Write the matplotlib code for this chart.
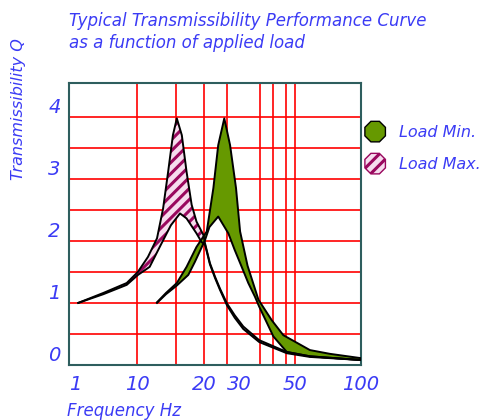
import numpy as np
import matplotlib
matplotlib.use("Agg")
import matplotlib.pyplot as plt
import matplotlib.patches as mpatches
from matplotlib.legend_handler import HandlerPatch

# the frequency axis in the original is piecewise logarithmic
SCALE_FREQ = [1, 10, 20, 30, 50, 100]
SCALE_POS = [0, 68, 135, 158, 226, 292]

tick_freq = [1, 10, 20, 30, 50, 100]
minor_grid_freq = [15, 38.4, 42.3, 46.6]

# Load Max. (hatched band), upper and lower edge
max_up_f = [1.37, 3.2, 7.06, 10.1, 11.2, 12.3, 13.1, 13.8, 14.5, 15.1, 15.9, 16.7, 17.6,
            18.5, 19.9, 20.35, 22.2, 24.3, 26.5, 30.0, 31.8, 33.9, 38.2, 47.0, 58.5, 100]
max_up_q = [1.00, 1.16, 1.32, 1.50, 1.74, 2.04, 2.52, 3.11, 3.70, 3.97, 3.70, 3.11, 2.58,
            2.31, 2.09, 1.96, 1.64, 1.42, 1.23, 0.99, 0.80, 0.62, 0.40, 0.21, 0.14, 0.08]
max_lo_f = [1.37, 3.2, 7.06, 10.1, 11.4, 12.9, 14.2, 15.6, 16.7, 18.5, 19.5, 20.35,
            22.2, 24.3, 26.5, 30.0, 31.8, 33.9, 38.2, 47.0, 58.5, 100]
max_lo_q = [1.00, 1.14, 1.29, 1.45, 1.58, 1.96, 2.25, 2.44, 2.36, 2.12, 1.98, 1.94,
            1.62, 1.40, 1.21, 0.96, 0.76, 0.58, 0.37, 0.19, 0.13, 0.08]

# Load Min. (green band)
min_up_f = [12.3, 13.5, 15.1, 16.7, 18.5, 21.0, 23.6, 25.7, 28.6, 30.7, 32.1, 33.1,
            35.0, 38.0, 42.0, 45.8, 58.5, 72, 100]
min_up_q = [1.01, 1.16, 1.32, 1.58, 1.90, 2.15, 2.85, 3.54, 3.97, 3.54, 2.85, 2.15,
            1.60, 1.05, 0.72, 0.48, 0.24, 0.18, 0.11]
min_lo_f = [12.3, 13.5, 15.1, 17.0, 18.2, 20.35, 22.0, 25.7, 30.3, 31.8, 33.5, 35.2,
            37.0, 38.2, 42.5, 47.0, 58.5, 100]
min_lo_q = [1.00, 1.14, 1.28, 1.45, 1.66, 2.01, 2.22, 2.39, 2.12, 1.85, 1.58, 1.32,
            1.10, 0.94, 0.46, 0.21, 0.14, 0.08]

BLUE = "#3b3bf5"
GREEN = "#669900"
PURPLE = "#99085e"
PINK = "#f6dcee"

plt.rcParams["hatch.linewidth"] = 2.2


def forward(f):
    f = np.clip(np.asarray(f, dtype=float), 1e-6, None)
    return np.interp(np.log10(f), np.log10(SCALE_FREQ), SCALE_POS)


def inverse(p):
    p = np.asarray(p, dtype=float)
    return 10 ** np.interp(p, SCALE_POS, np.log10(SCALE_FREQ))


def octagon(legend, orig_handle, xdescent, ydescent, width, height, fontsize):
    return mpatches.RegularPolygon((width / 2 - xdescent, height / 2 - ydescent), 8,
                                   radius=8, orientation=np.pi / 8)


fig = plt.figure(figsize=(4.88, 4.20), dpi=100)
ax = fig.add_axes([69 / 488, 55 / 420, 292 / 488, 282 / 420])
ax.set_xscale("function", functions=(forward, inverse))
ax.set_xlim(1, 100)
ax.set_ylim(0, 4.54)

# bands
ax.fill(np.concatenate([max_up_f, max_lo_f[::-1]]),
        np.concatenate([max_up_q, max_lo_q[::-1]]),
        facecolor=PINK, edgecolor=PURPLE, hatch="///", lw=0, zorder=2)
ax.fill(np.concatenate([min_up_f, min_lo_f[::-1]]),
        np.concatenate([min_up_q, min_lo_q[::-1]]),
        facecolor=GREEN, edgecolor="none", lw=0, zorder=3)
for f, q in [(max_up_f, max_up_q), (max_lo_f, max_lo_q),
             (min_up_f, min_up_q), (min_lo_f, min_lo_q)]:
    ax.plot(f, q, color="black", lw=1.4, zorder=4)

# grid
ax.set_xticks(tick_freq)
ax.set_xticklabels([str(t) for t in tick_freq])
ax.set_xticks(minor_grid_freq, minor=True)
ax.set_yticks([0, 1, 2, 3, 4])
ax.set_yticks([0.5, 1.5, 2.5, 3.5], minor=True)
ax.grid(which="both", color="red", lw=1.2, zorder=1)
ax.set_axisbelow(True)
ax.tick_params(which="both", length=0)
ax.tick_params(axis="x", pad=7)
ax.tick_params(axis="y", pad=6)
for lbl in ax.get_xticklabels() + ax.get_yticklabels():
    lbl.set_color(BLUE)
    lbl.set_fontsize(14)
    lbl.set_fontstyle("italic")
for lbl in ax.get_yticklabels():
    lbl.set_verticalalignment("bottom")
for lbl in ax.get_xticklabels():
    if lbl.get_text() in ("1", "30"):
        lbl.set_horizontalalignment("left")

for s in ax.spines.values():
    s.set_color("#2e5e5e")
    s.set_linewidth(1.5)

fig.text(69 / 488, 1 - 12 / 420,
         "Typical Transmissibility Performance Curve\nas a function of applied load",
         color=BLUE, fontsize=12, style="italic", va="top", ha="left", linespacing=1.3)
fig.text(19 / 488, 1 - 109 / 420, "Transmissibility Q", rotation=90, color=BLUE,
         fontsize=11.5, style="italic", ha="center", va="center")
fig.text(67 / 488, 1 - 411 / 420, "Frequency Hz", color=BLUE, fontsize=12,
         style="italic", ha="left", va="center")

h_min = mpatches.Patch(facecolor=GREEN, edgecolor="black", lw=1)
h_max = mpatches.Patch(facecolor=PINK, edgecolor=PURPLE, hatch="///", lw=1)
leg = fig.legend([h_min, h_max], ["Load Min.", "Load Max."],
                 loc="upper left", bbox_to_anchor=(348 / 488, 1 - 108 / 420),
                 frameon=False, fontsize=11.5, handlelength=1.6, handleheight=1.4,
                 labelspacing=0.85, handletextpad=0.7,
                 handler_map={mpatches.Patch: HandlerPatch(patch_func=octagon)})
for t in leg.get_texts():
    t.set_color(BLUE)
    t.set_fontstyle("italic")

fig.savefig("out.png", dpi=100)
